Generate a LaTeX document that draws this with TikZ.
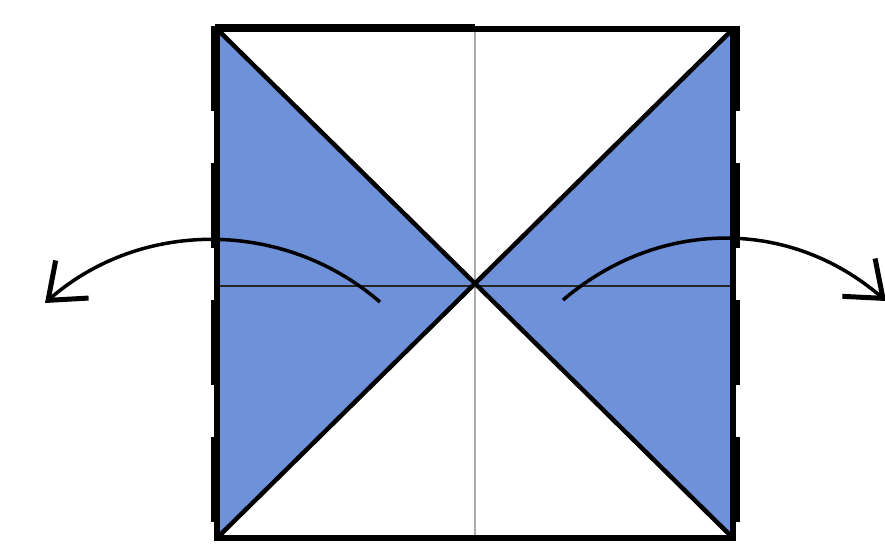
\documentclass[tikz,border=0pt]{standalone}
\usepackage{xcolor}
\usepackage{tikz}
\usetikzlibrary{arrows.meta}
\definecolor{foldblue}{RGB}{110,145,218}

\begin{document}
\begin{tikzpicture}[x=1pt,y=-1pt,
  edge/.style={line width=5.5pt,line join=miter},
  crease/.style={line width=4.5pt,line cap=round},
  foldarrow/.style={line width=3.5pt,-{Straight Barb[length=32pt,width=50pt,line width=5pt]}}]
  \useasboundingbox (0,0) rectangle (885,545);
  \coordinate (tl) at (217,29);  \coordinate (tr) at (733,29);
  \coordinate (bl) at (217,538); \coordinate (br) at (733,538);
  \coordinate (c) at (475,285);
  % blue flaps
  \fill[foldblue] (tl) -- (c) -- (bl) -- cycle;
  \fill[foldblue] (tr) -- (c) -- (br) -- cycle;
  % thin creases
  \draw[gray!65,line width=1.6pt] (475,29) -- (475,538);
  \draw[black!85,line width=2.2pt] (217,286) -- (733,286);
  \draw[crease] (tl) -- (br);
  \draw[crease] (tr) -- (bl);
  % outline
  \draw[edge] (tl) rectangle (br);
  \draw[line width=8pt] (215,28) -- (475,28);
  \foreach \x in {214,736}
     \draw[line width=7pt,dash pattern=on 85pt off 52pt] (\x,26) -- (\x,540);
  % fold arrows
  \draw[foldarrow] (380,302) .. controls (284,219) and (141,219) .. (45,303);
  \draw[foldarrow] (563,300) .. controls (659,218) and (790,218) .. (886,301);
\end{tikzpicture}
\end{document}
